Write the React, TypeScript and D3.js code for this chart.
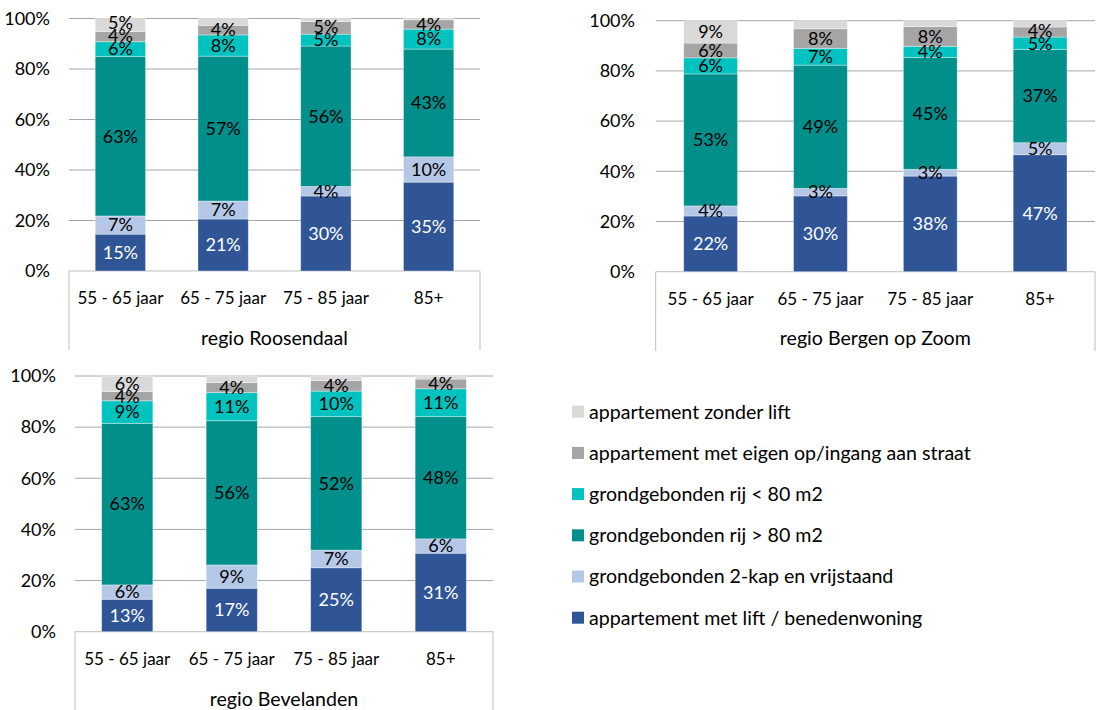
import React from "react";
import * as d3 from "d3";

const categories = ["55 - 65 jaar", "65 - 75 jaar", "75 - 85 jaar", "85+"];
const seriesNames = [
  "appartement met lift / benedenwoning",
  "grondgebonden 2-kap en vrijstaand",
  "grondgebonden rij > 80 m2",
  "grondgebonden rij < 80 m2",
  "appartement met eigen op/ingang aan straat",
  "appartement zonder lift",
];
const seriesColors = ["#2F5597", "#B4C7E7", "#008F8A", "#00C2BF", "#A5A5A5", "#D9D9D9"];
const labelColors = ["#FFFFFF", "#000000", "#000000", "#000000", "#000000", "#000000"];
const yTicks = [0, 20, 40, 60, 80, 100];

// Roosendaal
const roosDarkBlue = [14.6, 20.6, 29.7, 35.2];
const roosLightBlue = [7.2, 7.1, 3.8, 10.0];
const roosTeal = [63.1, 57.4, 55.6, 42.7];
const roosCyan = [5.9, 8.4, 4.7, 7.9];
const roosGray = [4.0, 3.8, 5.0, 3.7];
const roosLightGray = [5.2, 2.7, 1.2, 0.5];

// Bergen op Zoom
const bozDarkBlue = [22.2, 30.2, 38.1, 46.6];
const bozLightBlue = [4.0, 3.0, 2.7, 4.8];
const bozTeal = [52.6, 49.1, 44.6, 37.1];
const bozCyan = [6.4, 6.7, 4.4, 5.0];
const bozGray = [5.9, 7.8, 7.9, 4.0];
const bozLightGray = [8.9, 3.2, 2.3, 2.5];

// Bevelanden
const bevDarkBlue = [12.7, 17.0, 25.0, 30.7];
const bevLightBlue = [5.6, 9.1, 6.9, 5.6];
const bevTeal = [63.2, 56.4, 52.2, 47.8];
const bevCyan = [8.8, 11.0, 10.0, 10.9];
const bevGray = [3.6, 3.9, 4.1, 3.8];
const bevLightGray = [6.1, 2.6, 1.8, 1.2];

const regionTitles = ["regio Roosendaal", "regio Bergen op Zoom", "regio Bevelanden"];

const FONT = "Lato, 'Open Sans', sans-serif";
const FS = 18;
const FS_CAT = 17;
const FS_TEXT = 19.6;

type Layout = {
  left: number; right: number; y100: number; y0: number; boxBottom: number;
  tickRight: number; catY: number; titleY: number;
};

const layouts: Layout[] = [
  { left: 69, right: 480, y100: 18.5, y0: 271, boxBottom: 350, tickRight: 50, catY: 298, titleY: 338 },
  { left: 655.7, right: 1095, y100: 20.7, y0: 271.7, boxBottom: 351, tickRight: 635, catY: 299, titleY: 338 },
  { left: 75, right: 493, y100: 376, y0: 631.7, boxBottom: 712, tickRight: 56, catY: 659, titleY: 699 },
];

const regionData = [
  [roosDarkBlue, roosLightBlue, roosTeal, roosCyan, roosGray, roosLightGray],
  [bozDarkBlue, bozLightBlue, bozTeal, bozCyan, bozGray, bozLightGray],
  [bevDarkBlue, bevLightBlue, bevTeal, bevCyan, bevGray, bevLightGray],
];

const fmt = d3.format(".0%");
const MIN_GAP = 13;

function Panel({ data, layout, title }: { data: number[][]; layout: Layout; title: string }) {
  const x = d3.scaleBand<string>().domain(categories).range([layout.left, layout.right]).paddingInner(0.51).paddingOuter(0.255);
  const y = d3.scaleLinear().domain([0, 100]).range([layout.y0, layout.y100]);
  const rows = categories.map((c, i) => {
    const o: any = { cat: c };
    data.forEach((s, k) => (o["s" + k] = s[i]));
    return o;
  });
  const stack = d3.stack<any>().keys(data.map((_, k) => "s" + k))(rows);

  const labels: { x: number; y: number; text: string; color: string; key: string }[] = [];
  categories.forEach((c, i) => {
    let prevY = Infinity;
    stack.forEach((layer, k) => {
      const d = layer[i];
      const v = d[1] - d[0];
      if (k === 5 && v < 4) return;
      let cy = (y(d[0]) + y(d[1])) / 2;
      cy = Math.min(cy, prevY - MIN_GAP);
      prevY = cy;
      labels.push({ x: x(c)! + x.bandwidth() / 2, y: cy, text: fmt(v / 100), color: labelColors[k], key: c + k });
    });
  });

  return (
    <g>
      {yTicks.map((t) => (
        <g key={t}>
          <line x1={layout.left} x2={layout.right} y1={y(t)} y2={y(t)} stroke={t === 0 ? "#BFBFBF" : "#A6A6A6"} strokeWidth={1} />
          <text x={layout.tickRight} y={y(t)} dy="0.35em" textAnchor="end" fontSize={FS} fontFamily={FONT} fill="#000">
            {t}%
          </text>
        </g>
      ))}
      <line x1={layout.left} x2={layout.left} y1={layout.y0} y2={layout.boxBottom} stroke="#BFBFBF" />
      <line x1={layout.right} x2={layout.right} y1={layout.y0} y2={layout.boxBottom} stroke="#BFBFBF" />
      {stack.map((layer, k) => (
        <g key={k}>
          {layer.map((d, i) => (
            <rect key={i} x={x(categories[i])!} width={x.bandwidth()} y={y(d[1])} height={y(d[0]) - y(d[1])}
              fill={seriesColors[k]} stroke="#ffffff" strokeOpacity={0.45} strokeWidth={0.8} />
          ))}
        </g>
      ))}
      {labels.map((l) => (
        <text key={l.key} x={l.x} y={l.y} dy="0.35em" textAnchor="middle" fontSize={FS} fontFamily={FONT} fill={l.color}>
          {l.text}
        </text>
      ))}
      {categories.map((c) => (
        <text key={c} x={x(c)! + x.bandwidth() / 2} y={layout.catY} dy="0.35em" textAnchor="middle" fontSize={FS_CAT} fontFamily={FONT} fill="#000">
          {c}
        </text>
      ))}
      <text x={(layout.left + layout.right) / 2} y={layout.titleY} dy="0.35em" textAnchor="middle" fontSize={FS_TEXT} fontFamily={FONT} fill="#000">
        {title}
      </text>
    </g>
  );
}

function Legend() {
  const order = [5, 4, 3, 2, 1, 0];
  const ly = d3.scalePoint<number>().domain(order).range([411.7, 617.7]);
  return (
    <g>
      {order.map((k) => (
        <g key={k}>
          <rect x={572} y={ly(k)! - 6} width={12} height={12} fill={seriesColors[k]} />
          <text x={589} y={ly(k)!} dy="0.35em" fontSize={FS_TEXT} fontFamily={FONT} fill="#000">
            {seriesNames[k]}
          </text>
        </g>
      ))}
    </g>
  );
}

export default function App() {
  return (
    <svg width={1110} height={710} style={{ position: "absolute", left: 0, top: 0, background: "#fff" }}>
      <rect x={0} y={0} width={1110} height={710} fill="#fff" />
      {regionData.map((d, i) => (
        <Panel key={i} data={d} layout={layouts[i]} title={regionTitles[i]} />
      ))}
      <Legend />
    </svg>
  );
}
